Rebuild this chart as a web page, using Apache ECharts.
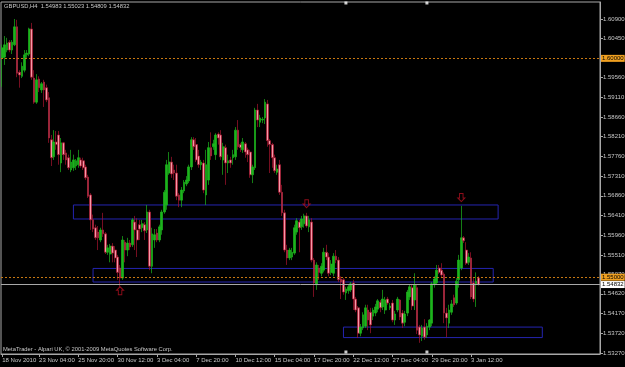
<!DOCTYPE html>
<html><head><meta charset="utf-8">
<script src="https://cdn.jsdelivr.net/npm/echarts@6/dist/echarts.min.js"></script>
<style>html,body{margin:0;padding:0;background:#000;}#c{width:625px;height:367px;}</style>
</head><body><div id="c"></div>
<script>
const titleText = "GBPUSD,H4  1.54983 1.55023 1.54809 1.54832";
const footerText = "MetaTrader - Alpari UK, \u00a9 2001-2009 MetaQuotes Software Corp.";
const slotCount = 244;
const tickIdx = [0,15,31,47,63,79,95,111,127,143,159,175,191];
const tickLabels = ["18 Nov 2010","23 Nov 04:00","25 Nov 20:00","30 Nov 12:00","3 Dec 04:00","7 Dec 20:00","10 Dec 12:00","15 Dec 04:00","17 Dec 20:00","22 Dec 12:00","27 Dec 04:00","29 Dec 20:00","3 Jan 12:00"];
const yTicks = [1.5327,1.5372,1.5417,1.5462,1.5507,1.5551,1.5596,1.5641,1.5686,1.5731,1.5776,1.5821,1.5866,1.5911,1.5956,1.6001,1.6045,1.6090];
const yMin = 1.53245, yMax = 1.61288;

const open = [
1.6001,1.6003,1.6019,1.6037,1.6019,1.6031,1.6072,1.5968,1.5959,1.5973,
1.6008,1.6010,1.6067,1.5955,1.5900,1.5953,1.5928,1.5946,1.5933,1.5910,
1.5814,1.5775,1.5809,1.5825,1.5761,1.5807,1.5784,1.5773,1.5745,1.5750,
1.5754,1.5757,1.5768,1.5766,1.5752,1.5729,1.5688,1.5631,1.5613,1.5603,
1.5585,1.5608,1.5599,1.5557,1.5553,1.5571,1.5562,1.5546,1.5521,1.5498,
1.5580,1.5562,1.5578,1.5574,1.5626,1.5608,1.5620,1.5613,1.5620,1.5608,
1.5649,1.5525,1.5585,1.5601,1.5585,1.5608,1.5649,1.5665,1.5738,1.5763,
1.5745,1.5738,1.5688,1.5676,1.5697,1.5713,1.5720,1.5752,1.5814,1.5803,
1.5777,1.5757,1.5761,1.5688,1.5722,1.5796,1.5798,1.5780,1.5827,1.5825,
1.5768,1.5796,1.5761,1.5768,1.5773,1.5775,1.5836,1.5803,1.5791,1.5805,
1.5791,1.5786,1.5734,1.5750,1.5882,1.5854,1.5859,1.5864,1.5896,1.5812,
1.5803,1.5773,1.5740,1.5757,1.5694,1.5647,1.5562,1.5544,1.5546,1.5555,
1.5603,1.5626,1.5615,1.5622,1.5640,1.5615,1.5626,1.5539,1.5483,1.5521,
1.5509,1.5516,1.5557,1.5546,1.5511,1.5509,1.5548,1.5539,1.5496,1.5494,
1.5464,1.5469,1.5471,1.5487,1.5450,1.5430,1.5372,1.5384,1.5388,1.5425,
1.5420,1.5411,1.5418,1.5427,1.5443,1.5432,1.5425,1.5450,1.5430,1.5441,
1.5402,1.5425,1.5448,1.5418,1.5397,1.5418,1.5455,1.5476,1.5448,1.5476,
1.5386,1.5365,1.5386,1.5368,1.5386,1.5395,1.5483,1.5487,1.5521,1.5516,
1.5507,1.5418,1.5395,1.5420,1.5453,1.5441,1.5494,1.5521,1.5590,1.5562,
1.5534,1.5544,1.5487,1.5485,1.54983];
const high = [
1.6031,1.6051,1.6047,1.6042,1.6042,1.6090,1.6088,1.5973,1.5991,1.6019,
1.6019,1.6070,1.6081,1.5973,1.5964,1.5959,1.5946,1.5951,1.5940,1.5923,
1.5825,1.5836,1.5834,1.5834,1.5818,1.5809,1.5791,1.5780,1.5791,1.5780,
1.5770,1.5791,1.5773,1.5773,1.5757,1.5734,1.5692,1.5643,1.5620,1.5617,
1.5613,1.5647,1.5603,1.5574,1.5576,1.5578,1.5571,1.5551,1.5528,1.5594,
1.5585,1.5590,1.5585,1.5635,1.5640,1.5635,1.5631,1.5631,1.5626,1.5665,
1.5654,1.5613,1.5610,1.5610,1.5620,1.5654,1.5699,1.5768,1.5786,1.5775,
1.5757,1.5757,1.5692,1.5706,1.5722,1.5731,1.5757,1.5820,1.5820,1.5818,
1.5791,1.5768,1.5768,1.5791,1.5809,1.5831,1.5814,1.5829,1.5831,1.5836,
1.5807,1.5803,1.5780,1.5775,1.5791,1.5843,1.5859,1.5807,1.5818,1.5809,
1.5796,1.5791,1.5757,1.5887,1.5896,1.5871,1.5866,1.5907,1.5905,1.5816,
1.5807,1.5780,1.5757,1.5768,1.5711,1.5654,1.5574,1.5567,1.5567,1.5620,
1.5635,1.5631,1.5640,1.5645,1.5647,1.5640,1.5635,1.5544,1.5534,1.5528,
1.5532,1.5567,1.5574,1.5555,1.5539,1.5555,1.5562,1.5546,1.5502,1.5498,
1.5478,1.5483,1.5489,1.5494,1.5455,1.5434,1.5393,1.5420,1.5437,1.5437,
1.5430,1.5430,1.5439,1.5450,1.5448,1.5471,1.5455,1.5455,1.5441,1.5448,
1.5423,1.5455,1.5450,1.5425,1.5423,1.5471,1.5483,1.5483,1.5509,1.5483,
1.5391,1.5391,1.5404,1.5395,1.5404,1.5489,1.5502,1.5528,1.5528,1.5532,
1.5511,1.5430,1.5437,1.5448,1.5460,1.5498,1.5551,1.5663,1.5594,1.5580,
1.5555,1.5557,1.5498,1.5511,1.55023];
const low = [
1.5935,1.5985,1.6014,1.6014,1.6010,1.6028,1.5957,1.5933,1.5955,1.5968,
1.6001,1.6005,1.5951,1.5896,1.5896,1.5923,1.5921,1.5889,1.5900,1.5807,
1.5754,1.5768,1.5791,1.5757,1.5740,1.5768,1.5757,1.5745,1.5740,1.5743,
1.5745,1.5750,1.5750,1.5745,1.5722,1.5681,1.5608,1.5603,1.5585,1.5562,
1.5580,1.5592,1.5553,1.5551,1.5534,1.5534,1.5534,1.5494,1.5478,1.5494,
1.5534,1.5548,1.5562,1.5569,1.5562,1.5546,1.5585,1.5603,1.5585,1.5601,
1.5516,1.5509,1.5567,1.5580,1.5580,1.5597,1.5645,1.5654,1.5734,1.5727,
1.5722,1.5676,1.5660,1.5660,1.5692,1.5708,1.5715,1.5745,1.5791,1.5763,
1.5750,1.5745,1.5692,1.5665,1.5711,1.5768,1.5791,1.5768,1.5803,1.5768,
1.5734,1.5711,1.5738,1.5750,1.5757,1.5768,1.5791,1.5786,1.5784,1.5773,
1.5763,1.5727,1.5715,1.5745,1.5843,1.5843,1.5852,1.5850,1.5798,1.5738,
1.5750,1.5738,1.5734,1.5688,1.5640,1.5557,1.5528,1.5539,1.5539,1.5551,
1.5597,1.5557,1.5608,1.5613,1.5613,1.5603,1.5534,1.5455,1.5471,1.5494,
1.5502,1.5511,1.5539,1.5502,1.5505,1.5502,1.5532,1.5489,1.5450,1.5460,
1.5448,1.5462,1.5466,1.5425,1.5420,1.5361,1.5365,1.5379,1.5384,1.5379,
1.5372,1.5402,1.5411,1.5420,1.5420,1.5425,1.5416,1.5437,1.5425,1.5397,
1.5391,1.5420,1.5402,1.5384,1.5388,1.5411,1.5448,1.5425,1.5425,1.5370,
1.5350,1.5354,1.5357,1.5361,1.5379,1.5388,1.5476,1.5483,1.5507,1.5498,
1.5395,1.5363,1.5384,1.5414,1.5432,1.5437,1.5476,1.5516,1.5578,1.5528,
1.5528,1.5450,1.5443,1.5432,1.54809];
const close = [
1.6024,1.6031,1.6035,1.6019,1.6037,1.6072,1.5966,1.5962,1.5982,1.6008,
1.6012,1.6067,1.5957,1.5900,1.5951,1.5933,1.5942,1.5928,1.5905,1.5818,
1.5773,1.5809,1.5803,1.5780,1.5807,1.5780,1.5768,1.5750,1.5763,1.5768,
1.5766,1.5773,1.5754,1.5750,1.5727,1.5685,1.5631,1.5610,1.5590,1.5590,
1.5608,1.5599,1.5557,1.5567,1.5571,1.5555,1.5544,1.5511,1.5498,1.5585,
1.5562,1.5578,1.5569,1.5631,1.5608,1.5585,1.5610,1.5622,1.5606,1.5649,
1.5525,1.5599,1.5597,1.5585,1.5615,1.5649,1.5694,1.5757,1.5763,1.5736,
1.5738,1.5685,1.5676,1.5699,1.5717,1.5722,1.5752,1.5814,1.5798,1.5768,
1.5757,1.5763,1.5699,1.5757,1.5796,1.5777,1.5805,1.5825,1.5818,1.5775,
1.5798,1.5761,1.5766,1.5761,1.5780,1.5836,1.5798,1.5796,1.5809,1.5786,
1.5780,1.5734,1.5752,1.5882,1.5859,1.5864,1.5861,1.5900,1.5812,1.5803,
1.5773,1.5743,1.5747,1.5694,1.5647,1.5562,1.5544,1.5562,1.5557,1.5613,
1.5629,1.5613,1.5633,1.5640,1.5617,1.5631,1.5539,1.5487,1.5528,1.5511,
1.5525,1.5557,1.5546,1.5509,1.5530,1.5548,1.5539,1.5494,1.5489,1.5466,
1.5473,1.5478,1.5485,1.5450,1.5425,1.5372,1.5386,1.5414,1.5430,1.5402,
1.5391,1.5425,1.5432,1.5446,1.5430,1.5450,1.5448,1.5441,1.5434,1.5402,
1.5416,1.5450,1.5409,1.5395,1.5416,1.5466,1.5478,1.5434,1.5483,1.5379,
1.5368,1.5384,1.5363,1.5388,1.5402,1.5485,1.5496,1.5516,1.5511,1.5505,
1.5418,1.5407,1.5425,1.5439,1.5437,1.5491,1.5539,1.5590,1.5583,1.5532,
1.5546,1.5455,1.5450,1.5491,1.54832];

const levelLines = [1.60000, 1.55000];
const bidPrice = 1.54832;
const boxes = [[29,1.5665,202,1.5633],[37,1.5520,200,1.5489],[139,1.5386,220,1.5362]];
const upArrows = [[48,1.5469]];
const downArrows = [[124,1.5668],[187,1.5682]];
const anchorIdx = [140,173];

const FONT = 'Liberation Sans';
const FS = 6;
const candles = open.map((o,i)=>[o, close[i], low[i], high[i]]);
const slots = Array.from({length: slotCount}, (_, i) => String(i));

function hLineSeries(name, value, lineColor, lineType, labelBg, z) {
  return {
    type:'line', name:name, data:[], silent:true, z:z,
    markLine:{
      silent:true, symbol:['none','none'], animation:false, precision:5,
      lineStyle:{color:lineColor, type:lineType, width:1},
      label:{show:true, position:'end', distance:1, formatter:()=>value.toFixed(5), color:'#000', backgroundColor:labelBg, fontSize:FS, fontFamily:FONT, padding:[1,1,0,1]},
      data:[{yAxis:value}]
    }
  };
}

const chart = echarts.init(document.getElementById('c'), null, {renderer:'canvas'});
chart.setOption({
  animation:false,
  backgroundColor:'#000000',
  textStyle:{fontFamily:FONT},
  title:[
    {text:titleText, left:4, top:3, padding:0, textStyle:{color:'#c8c8c8', fontSize:5.8, fontWeight:'normal', fontFamily:FONT}},
    {text:footerText, left:3, top:346, padding:0, textStyle:{color:'#c8c8c8', fontSize:5.8, fontWeight:'normal', fontFamily:FONT}}
  ],
  grid:{left:1, top:2, width:599, height:352, outerBoundsMode:'none', containLabel:false, show:true, borderColor:'#a8a8a8', borderWidth:1, backgroundColor:'#000'},
  xAxis:{
    type:'category', data:slots, boundaryGap:true,
    axisLine:{show:true, lineStyle:{color:'#a8a8a8', width:1}},
    axisTick:{show:true, alignWithLabel:true, length:3, lineStyle:{color:'#a8a8a8'},
      interval:(idx)=>tickIdx.indexOf(idx)>=0},
    axisLabel:{show:true, color:'#c8c8c8', fontSize:FS, fontFamily:FONT, align:'left', margin:3,
      interval:(idx)=>tickIdx.indexOf(idx)>=0,
      formatter:(v, idx)=>{const k=tickIdx.indexOf(Number(v)); return k>=0?tickLabels[k]:'';}},
    splitLine:{show:false}
  },
  yAxis:{
    type:'value', position:'right', min:yMin, max:yMax,
    axisLine:{show:true, lineStyle:{color:'#a8a8a8', width:1}},
    axisTick:{show:true, length:3, lineStyle:{color:'#a8a8a8'}, customValues:yTicks},
    axisLabel:{show:true, color:'#c8c8c8', fontSize:FS, fontFamily:FONT, margin:3, customValues:yTicks,
      formatter:(v)=>Number(v).toFixed(5)},
    splitLine:{show:false}
  },
  series:[
    hLineSeries('level1', levelLines[0], '#c87812', [2,2], '#f0a020', 4),
    hLineSeries('level2', levelLines[1], '#c87812', [2,2], '#f0a020', 4),
    hLineSeries('bid', bidPrice, '#a8a8a8', 'solid', '#ffffff', 4),
    {
      type:'candlestick', data:candles, barWidth:2.2, z:3,
      itemStyle:{color:'#1cb41c', color0:'#f898a8', borderColor:'#1cb41c', borderColor0:'#a8142e', borderWidth:0.7},
      markArea:{
        silent:true,
        itemStyle:{color:'rgba(0,0,0,0)', borderColor:'#2424b0', borderWidth:1},
        data: boxes.map(b=>[{xAxis:b[0], yAxis:b[1]},{xAxis:b[2], yAxis:b[3]}])
      }
    },
    {
      type:'scatter', data:upArrows, symbol:'path://M4,0 L8,4 L6,4 L6,9 L2,9 L2,4 L0,4 Z', symbolSize:[7,8],
      itemStyle:{color:'rgba(0,0,0,0)', borderColor:'#b01020', borderWidth:1}, silent:true
    },
    {
      type:'scatter', data:downArrows, symbol:'path://M4,9 L8,5 L6,5 L6,0 L2,0 L2,5 L0,5 Z', symbolSize:[7,8],
      itemStyle:{color:'rgba(0,0,0,0)', borderColor:'#b01020', borderWidth:1}, silent:true
    },
    {
      type:'scatter', clip:false, silent:true, symbol:'rect', symbolSize:3,
      itemStyle:{color:'#ffffff'},
      data:[...anchorIdx.map(i=>({value:[i, yMax], symbolOffset:[0,1]})), ...anchorIdx.map(i=>({value:[i, yMin], symbolOffset:[0,-2]}))]
    }
  ]
});
</script></body></html>
